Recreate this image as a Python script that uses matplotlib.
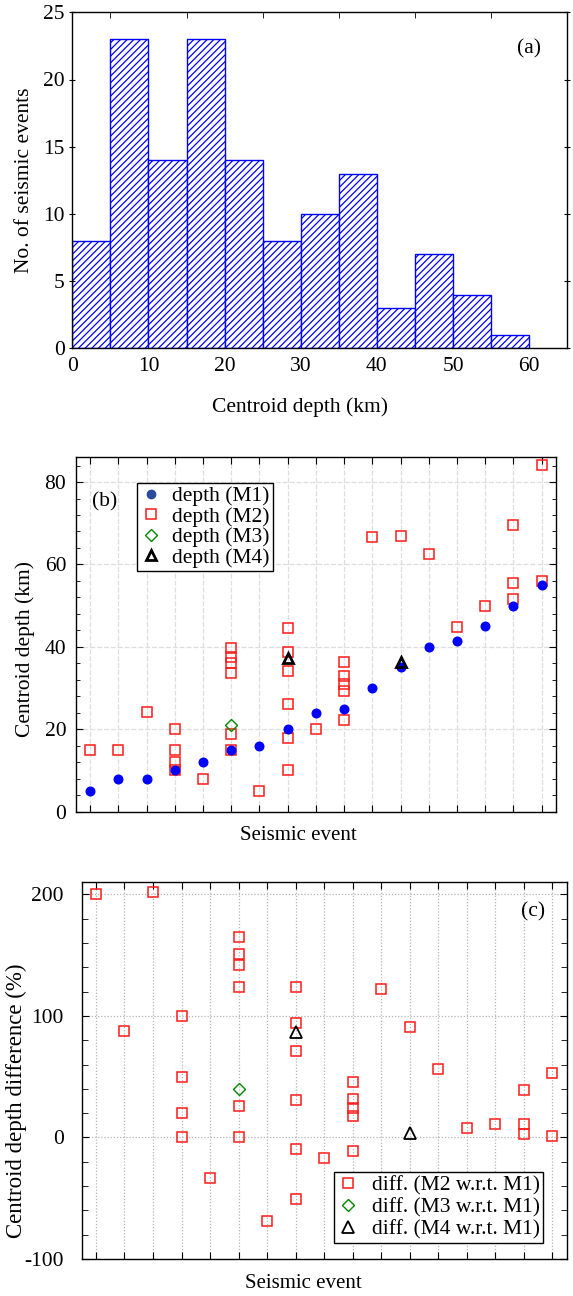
import matplotlib
matplotlib.use("Agg")
import matplotlib.pyplot as plt
from matplotlib.lines import Line2D
from matplotlib.ticker import MultipleLocator, FixedLocator, NullFormatter

plt.rcParams['font.family'] = ['Liberation Serif', 'DejaVu Serif']
plt.rcParams['hatch.linewidth'] = 0.9
plt.rcParams['axes.linewidth'] = 1.0
plt.rcParams['axes.unicode_minus'] = False

FS = 15.5

# ---------------- data ----------------
# (a) histogram
bin_edges = [0, 5, 10, 15, 20, 25, 30, 35, 40, 45, 50, 55, 60]
bin_counts = [8, 23, 14, 23, 14, 8, 10, 13, 3, 7, 4, 1]

# (b) centroid depth per event
m1_events = [1, 2, 3, 4, 5, 6, 7, 8, 9, 10, 11, 12, 13, 14, 15, 16, 17]
m1_depth = [5, 8, 8, 10, 12, 15, 16, 20, 24, 25, 30, 35, 40, 41.5, 45, 50, 55]

m2_events = [1, 2, 3, 4, 4, 4, 4, 5, 6, 6, 6, 6, 6, 6, 7,
             8, 8, 8, 8, 8, 8, 9, 10, 10, 10, 10, 10, 11, 12, 13, 14, 15,
             16, 16, 16, 17, 17]
m2_depth = [15, 15, 24.2, 20, 15, 12, 10, 8, 39.8, 37.6, 36.2, 33.6, 18.9, 15, 5,
            44.6, 38.7, 34.2, 26.1, 18.0, 10.0, 20, 36.4, 32.9, 31.0, 29.4, 22.3,
            66.7, 66.8, 62.5, 44.8, 50.0, 69.5, 55.5, 51.5, 84.2, 56.0]

m3_events = [6]
m3_depth = [21.0]

m4_events = [8, 12]
m4_depth = [37.3, 36.3]

# (c) percentage difference w.r.t. M1
m2_diff = [200, 87.5, 202, 100, 50, 20, 0, -33, 165, 151, 142, 124, 26, 0, -69,
           123.5, 94.5, 71.5, 31, -9.5, -50.5, -16.5, 46, 32, 24, 18, -11,
           122.5, 91, 56.5, 7.7, 11.2, 39.2, 11.2, 3, 53, 1.6]
m3_diff = [40]
m4_diff = [87, 4]

W, H = 573, 1296
fig = plt.figure(figsize=(W / 100, H / 100), dpi=100)


def add_ax(l, r, t, b):
    return fig.add_axes([l / W, 1 - b / H, (r - l) / W, (b - t) / H])


# ---------------- (a) ----------------
axa = add_ax(72.3, 567.3, 12.3, 348.3)
widths = [bin_edges[i + 1] - bin_edges[i] for i in range(len(bin_counts))]
axa.bar(bin_edges[:-1], bin_counts, width=widths, align='edge',
        facecolor='white', edgecolor='#0000ff', hatch='/////', linewidth=1.0)
axa.set_xlim(0, 65)
axa.set_ylim(0, 25)
axa.set_xticks([0, 10, 20, 30, 40, 50, 60])
axa.set_yticks([0, 5, 10, 15, 20, 25])
axa.tick_params(axis='x', which='major', bottom=True, top=False, length=0,
                labelsize=FS, pad=6)
axa.xaxis.set_minor_locator(FixedLocator([5, 15, 25, 35, 45, 55]))
axa.tick_params(axis='x', which='minor', bottom=False, top=True, direction='in', length=4)
axa.tick_params(axis='y', which='major', left=True, right=True, direction='inout',
                length=5, labelsize=FS, pad=3)
axa.set_xlabel('Centroid depth (km)', fontsize=FS)
axa.set_ylabel('No. of seismic events', fontsize=FS)
axa.xaxis.label.set_va('center')
axa.yaxis.label.set_va('center')
axa.xaxis.set_label_coords(0.46, -0.175)
axa.yaxis.set_label_coords(-0.096, 0.5)
axa.text(0.923, 0.89, '(a)', transform=axa.transAxes, fontsize=FS,
         ha='center', va='center')

# ---------------- (b) ----------------
axb = add_ax(76, 555.7, 457.3, 811.7)
axb.set_axisbelow(True)
axb.grid(True, which='major', color='#dedede', linestyle=(0, (4, 1.5)), linewidth=0.9)
axb.plot(m2_events, m2_depth, linestyle='none', marker='s', markersize=7,
         markerfacecolor='none', markeredgecolor='#ff1a1a', markeredgewidth=1.1, zorder=3)
axb.plot(m1_events, m1_depth, linestyle='none', marker='o', markersize=6.2,
         markerfacecolor='#0000ff', markeredgecolor='#0000ff', zorder=4)
axb.plot(m3_events, m3_depth, linestyle='none', marker='D', markersize=6.5,
         markerfacecolor='none', markeredgecolor='#008a00', markeredgewidth=1.0, zorder=5)
axb.plot(m4_events, m4_depth, linestyle='none', marker='^', markersize=7.5,
         markerfacecolor='none', markeredgecolor='black', markeredgewidth=2.0, zorder=6)
axb.set_xlim(0.5, 17.5)
axb.set_ylim(0, 86)
axb.set_xticks(m1_events)
axb.xaxis.set_major_formatter(NullFormatter())
axb.set_yticks([0, 20, 40, 60, 80])
axb.yaxis.set_minor_locator(MultipleLocator(4))
axb.tick_params(axis='x', which='major', bottom=True, top=True, direction='in', length=5)
axb.tick_params(axis='y', which='major', left=True, right=True, direction='in', length=5,
                labelsize=FS, pad=7)
axb.tick_params(axis='y', which='minor', left=True, right=True, direction='in', length=3)
axb.set_xlabel('Seismic event', fontsize=FS - 0.5)
axb.set_ylabel('Centroid depth (km)', fontsize=FS)
axb.xaxis.label.set_va('center')
axb.yaxis.label.set_va('center')
axb.xaxis.set_label_coords(0.464, -0.068)
axb.yaxis.set_label_coords(-0.106, 0.46)
axb.text(0.06, 0.875, '(b)', transform=axb.transAxes, fontsize=FS,
         ha='center', va='center')
hb = [
    Line2D([], [], linestyle='none', marker='o', markersize=6, markerfacecolor='#2a4a9e',
           markeredgecolor='#2a4a9e'),
    Line2D([], [], linestyle='none', marker='s', markersize=7, markerfacecolor='none',
           markeredgecolor='#ff1a1a', markeredgewidth=1.1),
    Line2D([], [], linestyle='none', marker='D', markersize=6.5, markerfacecolor='none',
           markeredgecolor='#008a00', markeredgewidth=1.0),
    Line2D([], [], linestyle='none', marker='^', markersize=7.5, markerfacecolor='none',
           markeredgecolor='black', markeredgewidth=2.0),
]
legb = axb.legend(hb, ['depth (M1)', 'depth (M2)', 'depth (M3)', 'depth (M4)'],
                  loc='upper left', bbox_to_anchor=(0.1265, 0.928), borderaxespad=0,
                  fontsize=FS, frameon=True, fancybox=False, framealpha=1,
                  edgecolor='black', handlelength=1.0, handletextpad=0.5,
                  borderpad=0.15, labelspacing=0.02)
legb.get_frame().set_linewidth(1.0)

# ---------------- (c) ----------------
axc = add_ax(81.7, 566.7, 882.3, 1259)
axc.set_axisbelow(True)
axc.grid(True, which='major', color='#b5b5b5', linestyle=(0, (1, 1.5)), linewidth=0.9)
axc.plot(m2_events, m2_diff, linestyle='none', marker='s', markersize=7,
         markerfacecolor='none', markeredgecolor='#ff1a1a', markeredgewidth=1.1, zorder=3)
axc.plot(m3_events, m3_diff, linestyle='none', marker='D', markersize=6.5,
         markerfacecolor='none', markeredgecolor='#008a00', markeredgewidth=1.0, zorder=4)
axc.plot(m4_events, m4_diff, linestyle='none', marker='^', markersize=8,
         markerfacecolor='none', markeredgecolor='black', markeredgewidth=1.3, zorder=5)
axc.set_xlim(0.5, 17.5)
axc.set_ylim(-100, 210)
axc.set_xticks(m1_events)
axc.xaxis.set_major_formatter(NullFormatter())
axc.set_yticks([-100, 0, 100, 200])
axc.yaxis.set_minor_locator(MultipleLocator(20))
axc.tick_params(axis='x', which='major', bottom=True, top=True, direction='in', length=5)
axc.tick_params(axis='y', which='major', left=True, right=True, direction='in', length=5,
                labelsize=FS, pad=13)
axc.tick_params(axis='y', which='minor', left=True, right=True, direction='in', length=4)
axc.set_xlabel('Seismic event', fontsize=FS - 0.5)
axc.set_ylabel('Centroid depth difference (%)', fontsize=16.5)
axc.xaxis.label.set_va('center')
axc.yaxis.label.set_va('center')
axc.xaxis.set_label_coords(0.458, -0.066)
axc.yaxis.set_label_coords(-0.134, 0.42)
axc.text(0.931, 0.922, '(c)', transform=axc.transAxes, fontsize=FS,
         ha='center', va='center')
hc = [
    Line2D([], [], linestyle='none', marker='s', markersize=7, markerfacecolor='none',
           markeredgecolor='#ff1a1a', markeredgewidth=1.1),
    Line2D([], [], linestyle='none', marker='D', markersize=6.5, markerfacecolor='none',
           markeredgecolor='#008a00', markeredgewidth=1.0),
    Line2D([], [], linestyle='none', marker='^', markersize=8, markerfacecolor='none',
           markeredgecolor='black', markeredgewidth=1.3),
]
legc = axc.legend(hc, ['diff. (M2 w.r.t. M1)', 'diff. (M3 w.r.t. M1)', 'diff. (M4 w.r.t. M1)'],
                  loc='lower right', bbox_to_anchor=(0.951, 0.042), borderaxespad=0,
                  fontsize=FS, frameon=True, fancybox=False, framealpha=1,
                  edgecolor='black', handlelength=1.0, handletextpad=0.6,
                  borderpad=0.15, labelspacing=0.1)
legc.get_frame().set_linewidth(1.0)

fig.savefig('out.png', dpi=100)
